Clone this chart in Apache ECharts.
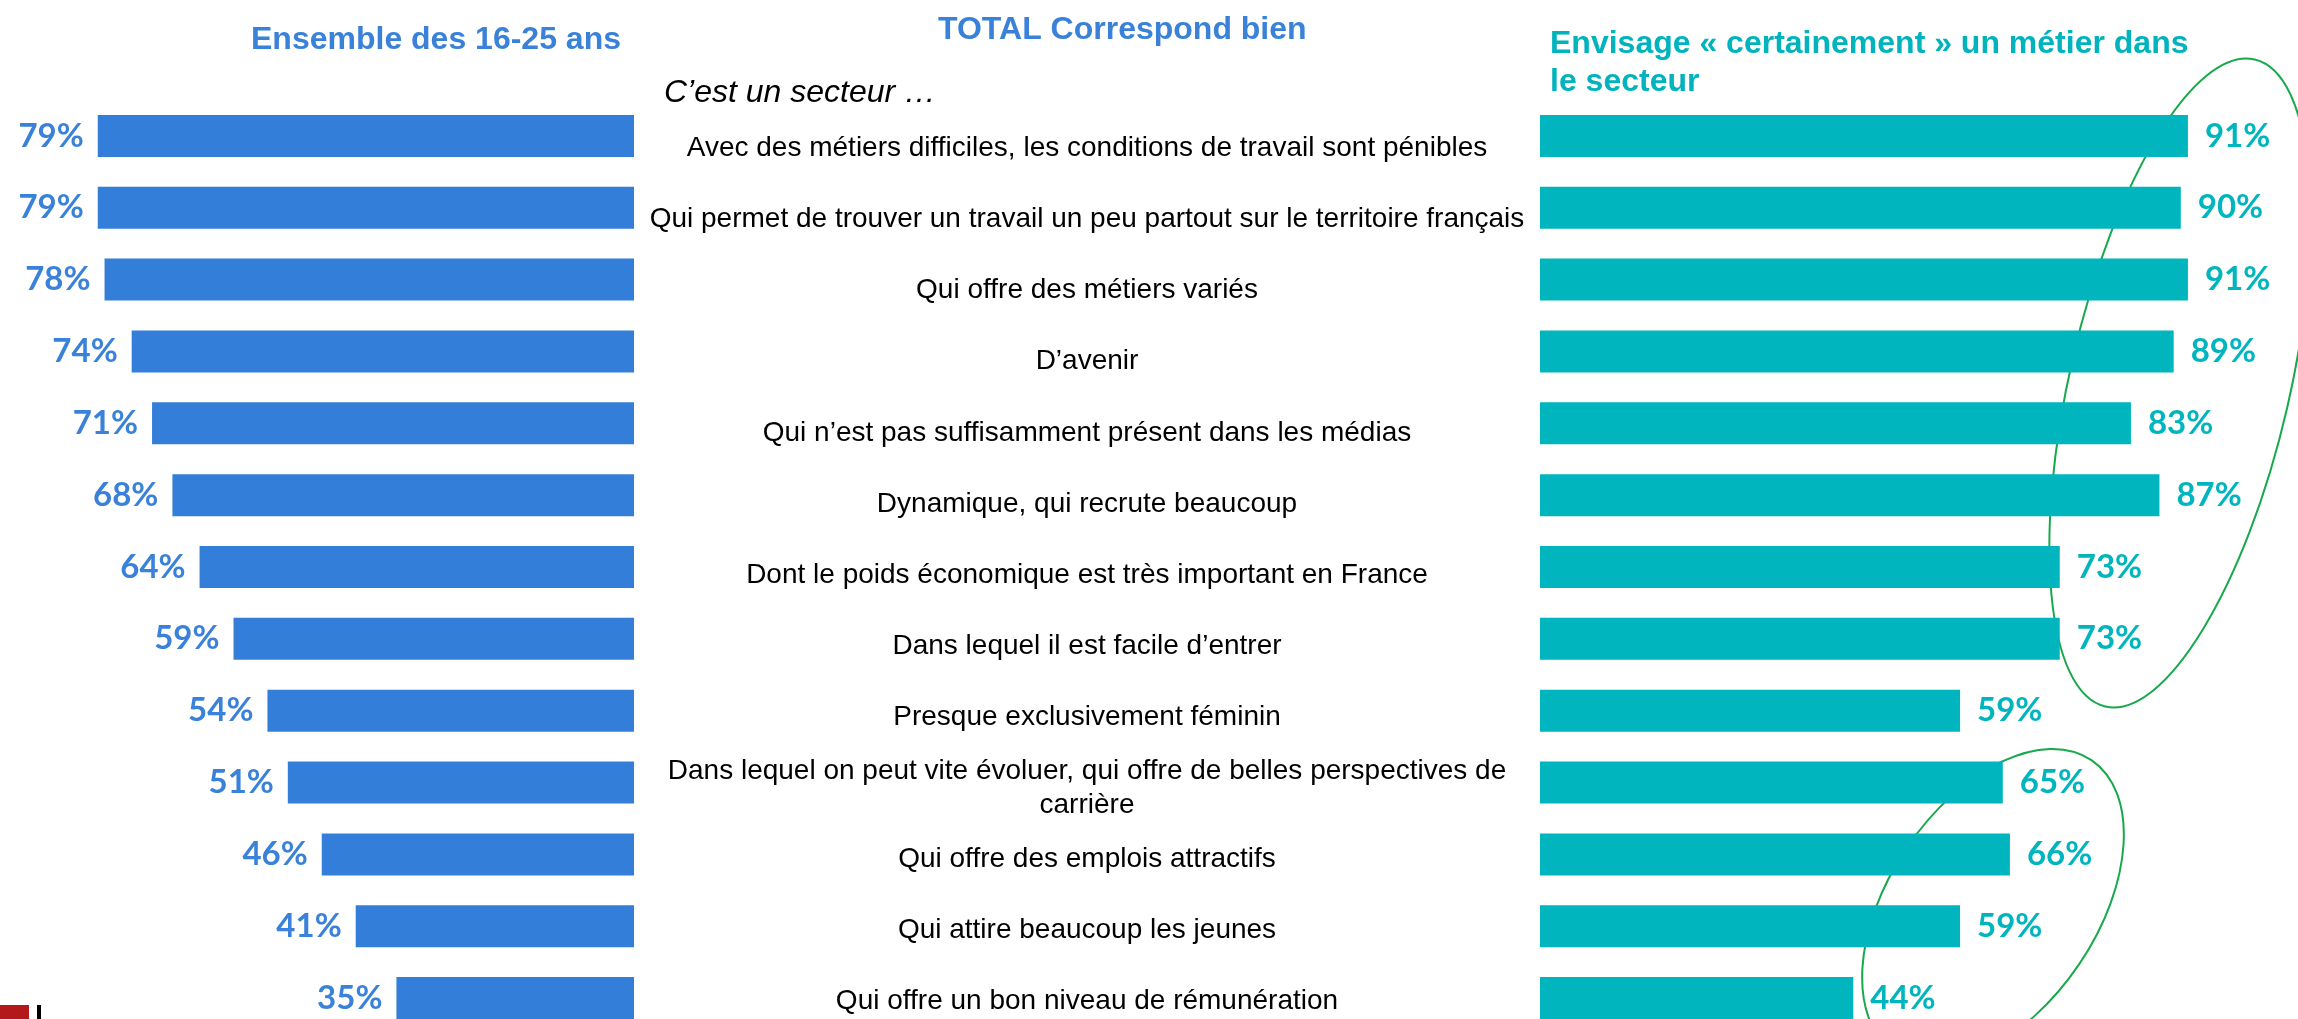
<!DOCTYPE html>
<html>
<head>
<meta charset="utf-8">
<script src="https://cdn.jsdelivr.net/npm/echarts@6/dist/echarts.min.js"></script>
<style>
html,body{margin:0;padding:0;background:#fff;overflow:hidden;}
#chart{width:2298px;height:1060px;}
</style>
</head>
<body>
<div id="chart"></div>
<script>
const categories = [
  "Avec des métiers difficiles, les conditions de travail sont pénibles",
  "Qui permet de trouver un travail un peu partout sur le territoire français",
  "Qui offre des métiers variés",
  "D’avenir",
  "Qui n’est pas suffisamment présent dans les médias",
  "Dynamique, qui recrute beaucoup",
  "Dont le poids économique est très important en France",
  "Dans lequel il est facile d’entrer",
  "Presque exclusivement féminin",
  "Dans lequel on peut vite évoluer, qui offre de belles perspectives de\ncarrière",
  "Qui offre des emplois attractifs",
  "Qui attire beaucoup les jeunes",
  "Qui offre un bon niveau de rémunération"
];
const ensemble = [79, 79, 78, 74, 71, 68, 64, 59, 54, 51, 46, 41, 35];
const envisage = [91, 90, 91, 89, 83, 87, 73, 73, 59, 65, 66, 59, 44];

const titleLeft = "Ensemble des 16-25 ans";
const titleCenter = "TOTAL Correspond bien";
const subtitleCenter = "C’est un secteur …";
const titleRight = "Envisage « certainement » un métier dans\nle secteur";

const BLUE = "#337ed9";
const TEAL = "#00b5be";
const GREEN = "#17a94b";

const chart = echarts.init(document.getElementById("chart"), null, {renderer: "canvas"});

const option = {
  backgroundColor: "#ffffff",
  animation: false,
  title: [
    {text: titleLeft, left: 246, top: 17,
     textStyle: {fontFamily: "Liberation Sans", fontWeight: "bold", fontSize: 32, color: "#3a82d9", lineHeight: 36}},
    {text: titleCenter, left: 933, top: 7,
     textStyle: {fontFamily: "Liberation Sans", fontWeight: "bold", fontSize: 32, color: "#3a82d9", lineHeight: 36}},
    {text: subtitleCenter, left: 659, top: 70,
     textStyle: {fontFamily: "Liberation Sans", fontStyle: "italic", fontWeight: "normal", fontSize: 32, color: "#000", lineHeight: 36}},
    {text: titleRight, left: 1545, top: 20,
     textStyle: {fontFamily: "Liberation Sans", fontWeight: "bold", fontSize: 32, color: "#00b3bd", lineHeight: 38}}
  ],
  grid: [
    {left: 0, width: 634, top: 100, height: 934, containLabel: false},
    {left: 1540, width: 712, top: 100, height: 934, containLabel: false},
    {left: 634, width: 906, top: 113, height: 924, containLabel: false}
  ],
  xAxis: [
    {gridIndex: 0, type: "value", inverse: true, min: 0, max: 93.4, show: false},
    {gridIndex: 1, type: "value", min: 0, max: 100, show: false},
    {gridIndex: 2, type: "value", min: 0, max: 100, show: false}
  ],
  yAxis: [
    {gridIndex: 0, type: "category", data: categories, inverse: true, show: false},
    {gridIndex: 1, type: "category", data: categories, inverse: true, show: false},
    {gridIndex: 2, type: "category", data: categories, inverse: true,
     axisLine: {show: false}, axisTick: {show: false}, splitLine: {show: false},
     axisLabel: {show: true, align: "center", margin: -453, interval: 0,
       fontFamily: "Liberation Sans", fontSize: 28, color: "#000", lineHeight: 34}}
  ],
  series: [
    {type: "bar", xAxisIndex: 0, yAxisIndex: 0, data: ensemble, barWidth: 42,
     itemStyle: {color: BLUE},
     label: {show: true, position: "left", distance: 14, formatter: "{c}%",
       fontFamily: "Lato", fontWeight: "bold", fontSize: 33, color: "#3a82d9"}},
    {type: "bar", xAxisIndex: 1, yAxisIndex: 1, data: envisage, barWidth: 42,
     itemStyle: {color: TEAL},
     label: {show: true, position: "right", distance: 17, formatter: "{c}%",
       fontFamily: "Lato", fontWeight: "bold", fontSize: 33, color: TEAL}}
  ],
  graphic: [
    {type: "ellipse", x: 2180, y: 383, rotation: -13 * Math.PI / 180, silent: true,
     shape: {cx: 0, cy: 0, rx: 110, ry: 332},
     style: {fill: null, stroke: GREEN, lineWidth: 2}},
    {type: "ellipse", x: 1993, y: 906, rotation: -34 * Math.PI / 180, silent: true,
     shape: {cx: 0, cy: 0, rx: 104, ry: 176},
     style: {fill: null, stroke: GREEN, lineWidth: 2}},
    {type: "rect", left: 0, top: 1005, silent: true,
     shape: {width: 29, height: 14}, style: {fill: "#b3191b"}},
    {type: "rect", left: 37, top: 1005, silent: true,
     shape: {width: 4, height: 14}, style: {fill: "#000"}}
  ]
};
chart.setOption(option);
</script>
</body>
</html>
